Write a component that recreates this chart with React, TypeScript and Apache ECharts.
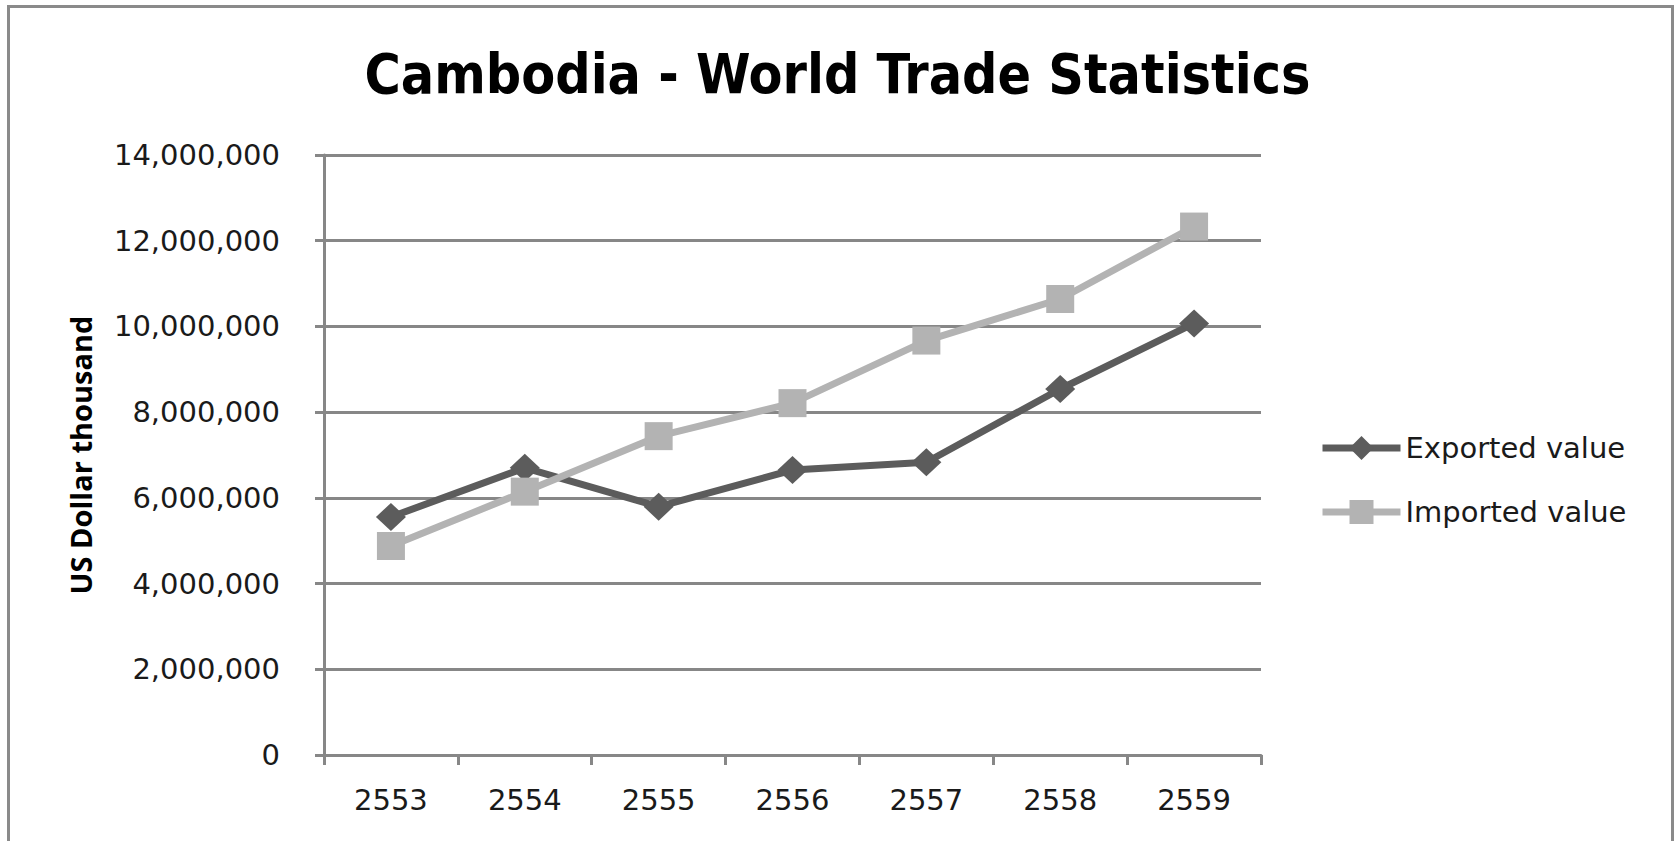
import React, { useEffect, useRef } from "react";
import * as echarts from "echarts";

const years = ["2553", "2554", "2555", "2556", "2557", "2558", "2559"];
const exportedValue = [5554000, 6700000, 5795000, 6650000, 6830000, 8540000, 10070000];
const importedValue = [4877000, 6145000, 7440000, 8210000, 9670000, 10640000, 12330000];
const seriesNames = ["Exported value", "Imported value"];
const titleText = "Cambodia - World Trade Statistics";
const yAxisName = "US Dollar thousand";

const LABEL_FONT = "'DejaVu Sans', sans-serif";

export default function App() {
  const ref = useRef<HTMLDivElement>(null);
  useEffect(() => {
    if (!ref.current) return;
    const chart = echarts.init(ref.current, undefined, { renderer: "svg" });
    chart.setOption({
      animation: false,
      backgroundColor: "#ffffff",
      title: {
        text: titleText,
        left: "center",
        top: 41,
        textStyle: {
          fontFamily: "'DejaVu Sans Condensed', 'DejaVu Sans', sans-serif",
          fontWeight: "bold",
          fontSize: 55,
          color: "#000000",
        },
      },
      graphic: [
        {
          type: "rect",
          shape: { x: 8.5, y: 6.5, width: 1664, height: 900 },
          style: { fill: "none", stroke: "#8a8a8a", lineWidth: 3 },
          silent: true,
        },
      ],
      grid: { left: 324, right: 414, top: 155, bottom: 86, containLabel: false },
      legend: {
        orient: "vertical",
        left: 1314,
        top: 428,
        itemWidth: 78,
        itemHeight: 30,
        itemGap: 34,
        lineStyle: { width: 7 },
        textStyle: { fontFamily: LABEL_FONT, fontSize: 29, color: "#1a1a1a", lineHeight: 30 },
        data: seriesNames,
      },
      xAxis: {
        type: "category",
        data: years,
        boundaryGap: true,
        axisLine: { show: true, lineStyle: { color: "#878787", width: 3 } },
        axisTick: { show: true, length: 10, lineStyle: { color: "#878787", width: 3 } },
        axisLabel: { fontFamily: LABEL_FONT, fontSize: 29, color: "#1a1a1a", margin: 30 },
        splitLine: { show: false },
      },
      yAxis: {
        type: "value",
        min: 0,
        max: 14000000,
        interval: 2000000,
        name: yAxisName,
        nameLocation: "middle",
        nameRotate: 90,
        nameGap: 229,
        nameTextStyle: {
          fontFamily: "'Open Sans', sans-serif",
          fontWeight: "bold",
          fontSize: 29,
          color: "#000000",
        },
        axisLine: { show: true, lineStyle: { color: "#878787", width: 3 } },
        axisTick: { show: true, length: 9, lineStyle: { color: "#878787", width: 3 } },
        axisLabel: {
          fontFamily: LABEL_FONT,
          fontSize: 29,
          color: "#1a1a1a",
          margin: 44,
          formatter: (v: number) => v.toLocaleString("en-US"),
        },
        splitLine: { show: true, lineStyle: { color: "#878787", width: 3 } },
      },
      series: [
        {
          name: seriesNames[0],
          type: "line",
          data: exportedValue,
          symbol: "diamond",
          symbolSize: [30, 28],
          lineStyle: { color: "#5c5c5c", width: 7 },
          itemStyle: { color: "#5c5c5c" },
          z: 3,
        },
        {
          name: seriesNames[1],
          type: "line",
          data: importedValue,
          symbol: "rect",
          symbolSize: 28,
          lineStyle: { color: "#b3b3b3", width: 7 },
          itemStyle: { color: "#b3b3b3" },
          z: 4,
        },
      ],
    });
    return () => chart.dispose();
  }, []);
  return (
    <div
      ref={ref}
      style={{ position: "fixed", left: 0, top: 0, width: 1675, height: 841 }}
    />
  );
}
